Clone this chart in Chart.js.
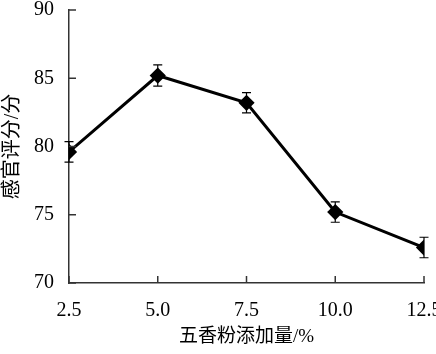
<!DOCTYPE html>
<html><head><meta charset="utf-8">
<script src="https://cdn.jsdelivr.net/npm/chart.js@4/dist/chart.umd.min.js"></script>
<style>html,body{margin:0;padding:0;background:#fff}#wrap{width:436px;height:354px}</style>
</head><body><div id="wrap"><canvas id="c" width="436" height="354"></canvas></div>
<script>
const xValues = [2.5, 5.0, 7.5, 10.0, 12.5];
const scores = [79.6, 85.2, 83.2, 75.2, 72.6];
const errors = [0.75, 0.78, 0.74, 0.75, 0.75];
const yTicks = [70, 75, 80, 85, 90];
const xTitle = '五香粉添加量/%';
const yTitle = '感官评分/分';

const serif = "'Liberation Serif','Times New Roman',serif";
const cjk = "'Liberation Serif','Noto Sans CJK SC',serif";
const axisColor = '#333';

const extras = {
  id: 'extras',
  afterDatasetsDraw(chart) {
    const ctx = chart.ctx, xs = chart.scales.x, ys = chart.scales.y;
    ctx.save();
    ctx.strokeStyle = '#000';
    ctx.lineWidth = 1.2;
    xValues.forEach((xv, i) => {
      const px = xs.getPixelForValue(xv);
      const top = ys.getPixelForValue(scores[i] + errors[i]);
      const bot = ys.getPixelForValue(scores[i] - errors[i]);
      ctx.beginPath();
      ctx.moveTo(px, top); ctx.lineTo(px, bot);
      ctx.moveTo(px - 4.5, top); ctx.lineTo(px + 4.5, top);
      ctx.moveTo(px - 4.5, bot); ctx.lineTo(px + 4.5, bot);
      ctx.stroke();
    });
    ctx.strokeStyle = axisColor;
    ctx.lineWidth = 1.5;
    const left = chart.chartArea.left, bottom = chart.chartArea.bottom;
    yTicks.forEach(v => {
      const py = ys.getPixelForValue(v);
      ctx.beginPath(); ctx.moveTo(left, py); ctx.lineTo(left + 7, py); ctx.stroke();
    });
    xValues.forEach(v => {
      const px = xs.getPixelForValue(v);
      ctx.beginPath(); ctx.moveTo(px, bottom); ctx.lineTo(px, bottom - 7); ctx.stroke();
    });
    ctx.restore();
  }
};

new Chart(document.getElementById('c'), {
  type: 'line',
  data: {
    datasets: [{
      data: xValues.map((x, i) => ({x: x, y: scores[i]})),
      borderColor: '#000',
      backgroundColor: '#000',
      borderWidth: 3,
      pointStyle: 'rectRot',
      pointRadius: 6,
      pointBackgroundColor: '#000',
      pointBorderColor: '#000',
      tension: 0
    }]
  },
  options: {
    responsive: false,
    animation: false,
    devicePixelRatio: 1,
    layout: { padding: { left: 0, right: 12, top: 10, bottom: 0 } },
    plugins: { legend: { display: false }, tooltip: { enabled: false } },
    scales: {
      x: {
        type: 'linear',
        min: 2.5, max: 12.5,
        afterBuildTicks: s => { s.ticks = xValues.map(v => ({value: v})); },
        afterFit: s => { s.height = 71; s.paddingLeft = 0; s.paddingRight = 0; },
        grid: { display: false, drawTicks: false },
        border: { display: true, color: axisColor, width: 1.5 },
        ticks: { padding: 16, color: '#000', font: { family: serif, size: 20 }, callback: v => Number(v).toFixed(1), maxRotation: 0, autoSkip: false },
        title: { display: true, text: xTitle, color: '#000', font: { family: cjk, size: 19 }, padding: { top: 0, bottom: 6 } }
      },
      y: {
        min: 70, max: 90,
        afterBuildTicks: s => { s.ticks = yTicks.map(v => ({value: v})); },
        afterFit: s => { s.width = 69; s.paddingTop = 0; s.paddingBottom = 0; },
        grid: { display: false, drawTicks: false },
        border: { display: true, color: axisColor, width: 1.5 },
        ticks: { padding: 15, color: '#000', font: { family: serif, size: 20 } },
        title: { display: true, text: yTitle, color: '#000', font: { family: cjk, size: 20 }, padding: { top: 1, bottom: 1 } }
      }
    }
  },
  plugins: [extras]
});
</script></body></html>
